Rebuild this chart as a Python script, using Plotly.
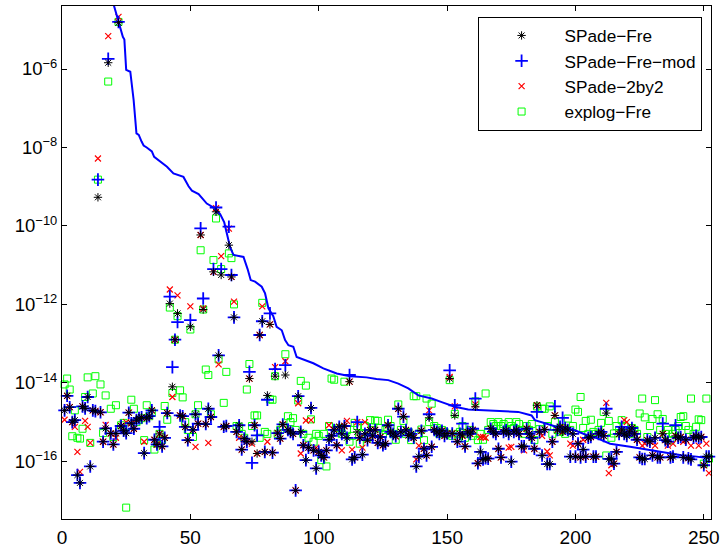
import plotly.graph_objects as go

# ---------------- data (log10 of the plotted values) ----------------
idx = list(range(1, 253))

spade_fre_log = [
-14.70,-14.33,-14.62,-15.00,-14.95,-16.35,-16.55,-14.60,-14.65,-14.36,-16.13,-14.70,
-14.72,-9.27,-14.75,-15.50,-15.16,-5.84,-15.29,-15.57,-15.29,-4.82,-15.10,-15.22,
-15.28,-14.76,-15.03,-15.17,-14.95,-14.90,-14.88,-15.79,-14.90,-14.85,-14.70,-15.45,
-15.57,-15.30,-15.62,-15.40,-14.77,-11.98,-14.10,-12.90,-12.23,-14.83,-14.85,-15.12,
-15.46,-12.57,-15.20,-14.80,-15.04,-10.23,-12.13,-15.05,-14.66,-14.87,-11.17,-9.64,
-13.30,-11.25,-15.12,-15.10,-10.49,-11.30,-12.33,-15.25,-15.08,-15.70,-15.42,-15.50,
-13.89,-15.50,-15.08,-15.80,-12.78,-12.43,-15.76,-14.32,-12.51,-15.78,-13.83,-15.28,
-15.42,-15.06,-13.80,-15.20,-15.25,-15.30,-16.74,-14.34,-15.25,-15.59,-15.97,-15.65,
-14.64,-15.72,-16.18,-15.76,-15.85,-15.90,-15.72,-15.45,-15.35,-15.20,-15.59,-15.12,
-15.30,-15.10,-15.40,-13.97,-15.95,-15.90,-15.25,-15.40,-15.83,-15.30,-15.46,-15.20,
-15.35,-15.20,-15.53,-15.38,-15.59,-15.55,-15.08,-15.25,-15.30,-15.36,-14.66,-15.25,
-14.86,-15.20,-15.34,-15.30,-15.40,-16.13,-15.88,-15.22,-15.68,-15.85,-14.89,-15.63,
-15.20,-15.25,-15.30,-15.22,-15.35,-15.29,-13.89,-15.29,-14.83,-15.50,-15.30,-15.35,
-15.62,-15.25,-15.30,-15.20,-14.61,-16.05,-15.76,-15.95,-15.92,-15.93,-15.17,-15.25,
-15.30,-15.68,-15.90,-15.25,-15.21,-15.30,-16.01,-15.25,-15.20,-15.30,-15.62,-15.62,
-15.17,-15.30,-15.40,-15.68,-14.57,-15.25,-15.85,-15.19,-16.07,-16.07,-15.50,-14.83,
-15.20,-15.12,-15.25,-15.15,-15.20,-15.88,-15.30,-15.88,-15.55,-15.90,-15.70,-15.88,
-15.40,-15.38,-15.88,-15.88,-15.30,-15.25,-15.35,-14.77,-15.94,-15.94,-16.06,-15.76,
-15.30,-15.20,-15.30,-15.35,-15.25,-15.15,-15.30,-15.45,-15.90,-15.94,-15.94,-15.46,
-15.50,-15.85,-15.40,-15.90,-15.90,-15.30,-15.46,-15.50,-15.90,-15.88,-15.35,-15.40,
-15.38,-15.90,-15.45,-15.92,-15.95,-15.40,-15.35,-15.40,-15.38,-16.10,-15.88,-15.88,
]

# SPade-Fre-mod: identical to SPade-Fre except at these indices
spade_mod_diff = {
14: -8.82, 18: -5.74, 22: -4.80, 38: -15.12, 42: -11.80, 43: -13.60, 45: -12.45,
50: -12.40, 54: -10.06, 55: -11.85, 59: -11.10, 60: -9.53, 62: -11.10, 65: -10.02,
66: -11.25, 73: -13.72, 74: -16.04, 76: -15.34, 80: -14.43, 81: -12.23, 83: -13.65,
87: -13.55, 112: -13.80, 115: -15.00, 143: -14.80, 151: -13.68, 153: -14.57,
156: -15.04, 160: -15.17, 161: -14.40, 185: -14.74, 192: -14.60, 195: -14.89,
212: -14.66, 218: -15.12, 234: -15.04, 239: -15.08,
}

# SPade-2by2: identical to SPade-Fre except at these indices
spade_2by2_diff = {
1: -14.94, 5: -15.12, 6: -15.76, 7: -16.27, 9: -14.97, 10: -15.12, 11: -15.53,
14: -8.28, 17: -15.07, 18: -5.16, 21: -15.40, 22: -4.67, 25: -15.00, 32: -15.50,
37: -15.57, 42: -11.62, 43: -14.36, 45: -11.77, 50: -12.05, 52: -15.63, 55: -12.10,
57: -15.53, 60: -9.55, 61: -13.53, 62: -10.77, 65: -10.07, 67: -11.93, 69: -15.40,
71: -15.45, 74: -15.55, 78: -12.05, 80: -15.50, 83: -13.60, 87: -13.45, 92: -14.52,
93: -15.80, 95: -14.96, 97: -14.95, 99: -15.65, 104: -15.08, 109: -15.72,
111: -14.97, 113: -15.70, 115: -15.00, 117: -15.65, 118: -15.00, 134: -15.20,
138: -15.95, 139: -15.60, 143: -14.70, 151: -13.85, 153: -14.60, 161: -14.55,
163: -15.38, 164: -15.38, 165: -15.40, 174: -15.65, 175: -15.63, 180: -15.72,
187: -15.35, 189: -15.75, 190: -15.85, 198: -15.55, 199: -15.60, 203: -15.45,
212: -14.51, 213: -16.30, 214: -16.10, 219: -14.95, 220: -15.00, 226: -15.60,
227: -15.55, 231: -15.60, 236: -15.60, 238: -15.55, 242: -15.50, 245: -15.60,
248: -15.60, 251: -15.55, 252: -16.30,
}

explog_fre_log = [
-14.04,-13.89,-14.17,-15.36,-14.70,-15.40,-15.42,-15.17,-14.36,-13.86,-15.53,-14.27,
-13.83,-8.82,-14.04,-15.28,-14.32,-6.32,-14.66,-15.38,-14.57,-4.80,-15.08,-15.02,
-17.18,-15.10,-14.43,-14.66,-15.00,-14.95,-14.90,-15.46,-14.57,-14.85,-14.75,-15.70,
-15.55,-15.30,-15.45,-14.59,-14.94,-12.08,-14.26,-12.90,-12.30,-14.19,-14.37,-15.00,
-15.20,-12.64,-15.38,-14.80,-14.57,-10.62,-12.13,-13.66,-13.80,-14.80,-10.87,-9.81,
-13.40,-11.10,-14.51,-13.72,-10.70,-10.82,-12.00,-15.10,-15.12,-15.30,-15.40,-14.17,
-13.52,-15.10,-14.83,-14.83,-15.40,-11.96,-15.25,-15.30,-14.42,-14.43,-13.83,-15.30,
-15.20,-15.10,-13.27,-14.85,-15.00,-14.90,-15.20,-14.45,-13.95,-15.30,-14.07,-15.40,
-14.93,-15.50,-15.30,-15.35,-15.97,-15.30,-16.13,-15.10,-13.89,-13.92,-15.20,-15.15,
-15.30,-13.97,-15.20,-15.50,-15.35,-15.02,-15.10,-15.55,-15.30,-15.10,-15.40,-14.95,
-15.20,-14.96,-14.97,-15.15,-15.30,-15.20,-14.94,-15.10,-15.30,-15.45,-14.55,-15.20,
-14.97,-15.30,-15.25,-15.46,-14.34,-14.34,-15.30,-15.19,-15.46,-14.40,-15.00,-14.53,
-15.10,-15.15,-15.30,-15.20,-15.25,-15.30,-13.93,-15.35,-14.79,-15.30,-15.25,-15.10,
-15.40,-15.30,-15.20,-15.35,-14.47,-15.46,-15.30,-15.45,-14.27,-15.20,-15.00,-15.05,
-15.10,-15.00,-15.10,-15.05,-15.20,-15.00,-15.10,-15.15,-15.00,-15.05,-15.20,-15.30,
-15.10,-15.20,-15.05,-15.46,-14.60,-15.18,-14.66,-14.66,-15.10,-14.60,-15.30,-15.00,
-15.20,-15.25,-15.15,-15.30,-14.91,-15.20,-15.10,-14.68,-14.74,-14.36,-15.15,-14.97,
-15.30,-14.94,-15.25,-15.30,-15.20,-15.02,-14.74,-15.85,-14.97,-15.40,-15.29,-15.10,
-15.20,-14.95,-15.10,-15.25,-15.30,-15.15,-15.20,-15.30,-14.78,-14.40,-14.88,-15.38,
-15.10,-14.92,-14.44,-14.80,-15.20,-14.92,-15.30,-15.20,-15.46,-15.30,-15.20,-15.10,
-14.87,-14.85,-15.10,-15.20,-14.40,-15.30,-15.12,-14.93,-14.95,-16.06,-14.40,-15.93,
]

# solid blue curve (knots)
curve_x = [19, 20.5, 22, 22.7, 23.7, 24.3, 25, 26.6, 27.9, 29, 29.9, 31, 31.8, 33, 35,
           35.9, 38.3, 40.9, 43.4, 45, 47.3, 49.3, 50.6, 53.2, 55.1, 56.4, 59, 61.6,
           63.2, 64.2, 65.5, 66.8, 70.7, 72.3, 73.5, 75.2, 77.8, 79.1, 80.4, 82.3, 83.6,
           85.6, 86.9, 88.2, 90.1, 91.4, 94, 97.9, 101.8, 107, 112.2, 118.6, 122.5,
           127.1, 131, 134.9, 138.8, 144, 147.9, 153, 158.2, 166, 177.7, 182.9, 184.2,
           190.7, 194.6, 199.7, 203.6, 208.8, 213.5, 221.3, 227.8, 234.3, 240.7, 247.2, 252]
curve_log = [-4.10, -4.45, -4.74, -4.92, -5.18, -5.25, -6.02, -6.07, -6.79, -7.64, -7.68,
             -7.85, -7.95, -8.00, -8.10, -8.24, -8.37, -8.49, -8.66, -8.70, -8.75, -8.99,
             -9.10, -9.19, -9.34, -9.43, -9.53, -9.70, -9.91, -10.21, -10.55, -10.74,
             -10.79, -11.10, -11.38, -11.42, -11.55, -11.72, -12.10, -12.30, -12.57,
             -12.66, -12.91, -13.04, -13.08, -13.34, -13.40, -13.50, -13.63, -13.76,
             -13.83, -13.86, -13.90, -13.93, -14.02, -14.14, -14.32, -14.40, -14.49,
             -14.61, -14.68, -14.71, -14.74, -14.83, -14.95, -15.08, -15.17, -15.21,
             -15.31, -15.42, -15.55, -15.63, -15.70, -15.78, -15.84, -15.88, -15.92]

legend_names = ["SPade\u2212Fre", "SPade\u2212Fre\u2212mod", "SPade\u22122by2", "explog\u2212Fre"]
ytick_exps = [-16, -14, -12, -10, -8, -6]
xtick_vals = [0, 50, 100, 150, 200, 250]

# ---------------- build series ----------------
mod_log = [spade_mod_diff.get(k, v) for k, v in zip(idx, spade_fre_log)]
by2_log = [spade_2by2_diff.get(k, v) for k, v in zip(idx, spade_fre_log)]
to_val = lambda arr: [10 ** e for e in arr]

FONT = "Liberation Sans, Arial, Helvetica, sans-serif"
fig = go.Figure()

fig.add_trace(go.Scatter(x=idx, y=to_val(explog_fre_log), mode="markers", name=legend_names[3],
                         legendrank=4, cliponaxis=False,
                         marker=dict(symbol="square-open", size=7, color="#00ff00",
                                     line=dict(width=1, color="#00ff00"))))
fig.add_trace(go.Scatter(x=idx, y=to_val(by2_log), mode="markers", name=legend_names[2],
                         legendrank=3, cliponaxis=False,
                         marker=dict(symbol="x-thin-open", size=6, color="#ff0000",
                                     line=dict(width=1.2, color="#ff0000"))))
fig.add_trace(go.Scatter(x=curve_x, y=to_val(curve_log), mode="lines", showlegend=False,
                         line=dict(color="#0000ff", width=2)))
fig.add_trace(go.Scatter(x=idx, y=to_val(mod_log), mode="markers", name=legend_names[1],
                         legendrank=2, cliponaxis=False,
                         marker=dict(symbol="cross-thin-open", size=9, color="#0000ff",
                                     line=dict(width=1.8, color="#0000ff"))))
fig.add_trace(go.Scatter(x=idx, y=to_val(spade_fre_log), mode="markers", name=legend_names[0],
                         legendrank=1, cliponaxis=False,
                         marker=dict(symbol="asterisk-open", size=7, color="#000000",
                                     line=dict(width=1, color="#000000"))))

fig.update_layout(
    width=721, height=553,
    margin=dict(l=62, r=10, t=6, b=34, autoexpand=False),
    paper_bgcolor="white", plot_bgcolor="white",
    font=dict(family=FONT, size=19, color="black"),
    legend=dict(x=0.9855, xanchor="right", y=0.979, yanchor="top",
                bgcolor="white", bordercolor="black", borderwidth=1,
                itemwidth=76, tracegroupgap=0,
                font=dict(family=FONT, size=17.2, color="black")),
)
fig.update_xaxes(range=[0, 252.8], tickvals=xtick_vals, ticktext=[str(v) for v in xtick_vals],
                 ticks="inside", ticklen=5, tickcolor="black", showline=True, linecolor="black",
                 linewidth=1, mirror="ticks", showgrid=False, zeroline=False, automargin=False,
                 ticklabelstandoff=1,
                 tickfont=dict(family=FONT, size=19, color="black"))
fig.update_yaxes(type="log", range=[-17.47, -4.394], tickvals=[10 ** e for e in ytick_exps],
                 ticktext=["10<sup>\u2212%d</sup>" % (-e) for e in ytick_exps],
                 ticks="inside", ticklen=5, tickcolor="black", showline=True, linecolor="black",
                 linewidth=1, mirror="ticks", showgrid=False, zeroline=False, automargin=False,
                 tickfont=dict(family=FONT, size=18.5, color="black"))

fig.write_html("out.html", config={"displayModeBar": False},
               post_script="document.body.style.margin='0';document.body.style.overflow='hidden';")
